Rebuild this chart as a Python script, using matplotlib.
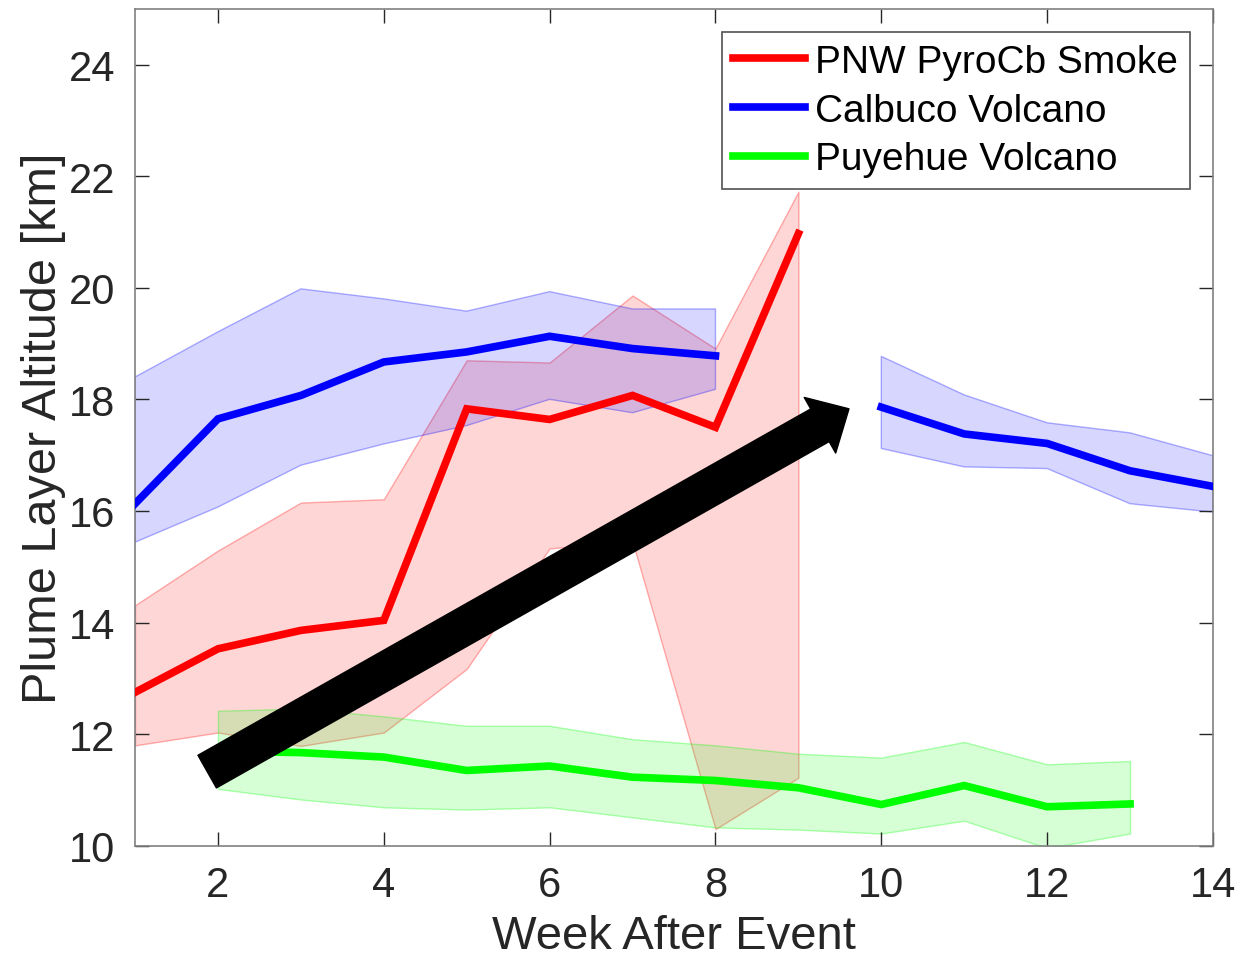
import numpy as np
import matplotlib
matplotlib.use("Agg")
import matplotlib.pyplot as plt

plt.rcParams["font.family"] = ["Liberation Sans", "DejaVu Sans"]

# Week after event
weeks = np.arange(1, 15)

# PNW PyroCb smoke (weeks 1-9)
pnw_mean = [12.75, 13.53, 13.86, 14.04, 17.83, 17.64, 18.07, 17.50, 20.97,
            np.nan, np.nan, np.nan, np.nan, np.nan]
pnw_upper = [14.31, 15.29, 16.15, 16.21, 18.70, 18.66, 19.86, 18.91, 21.72,
             np.nan, np.nan, np.nan, np.nan, np.nan]
pnw_lower = [11.80, 12.03, 11.79, 12.03, 13.17, 15.33, 15.45, 10.30, 11.22,
             np.nan, np.nan, np.nan, np.nan, np.nan]

# Calbuco volcano (weeks 1-8 and 10-14)
cal_mean = [16.13, 17.65, 18.07, 18.67, 18.85, 19.13, 18.91, 18.78, np.nan,
            17.86, 17.38, 17.21, 16.72, 16.44]
cal_upper = [18.40, 19.21, 19.98, 19.80, 19.58, 19.93, 19.62, 19.62, np.nan,
             18.77, 18.08, 17.58, 17.40, 16.99]
cal_lower = [15.44, 16.07, 16.82, 17.20, 17.53, 18.00, 17.76, 18.18, np.nan,
             17.12, 16.79, 16.76, 16.13, 15.98]

# Puyehue volcano (weeks 2-13)
puy_mean = [np.nan, 11.70, 11.67, 11.59, 11.35, 11.43, 11.23, 11.17, 11.04,
            10.74, 11.08, 10.70, 10.75, np.nan]
puy_upper = [np.nan, 12.42, 12.46, 12.32, 12.15, 12.15, 11.91, 11.80, 11.65,
             11.58, 11.86, 11.46, 11.52, np.nan]
puy_lower = [np.nan, 11.02, 10.83, 10.69, 10.65, 10.69, 10.51, 10.33, 10.29,
             10.22, 10.45, 9.96, 10.22, np.nan]

series = [
    ("PNW PyroCb Smoke", (1, 0, 0), pnw_mean, pnw_lower, pnw_upper),
    ("Calbuco Volcano", (0, 0, 1), cal_mean, cal_lower, cal_upper),
    ("Puyehue Volcano", (0, 1, 0), puy_mean, puy_lower, puy_upper),
]

fig = plt.figure(figsize=(12.39, 9.70), dpi=100)
ax = fig.add_axes([0.109, 0.127, 0.870, 0.863])

axcol = (0.15, 0.15, 0.15)

for name, col, mean, lo, hi in series:
    ax.fill_between(weeks, np.array(lo, float), np.array(hi, float),
                    facecolor=col + (0.16,), edgecolor=col + (0.3,),
                    linewidth=1.0, zorder=1)
for name, col, mean, lo, hi in series:
    ax.plot(weeks, mean, color=col, linewidth=5.5, label=name, zorder=3,
            solid_joinstyle="miter")

ax.set_xlim(1, 14)
ax.set_ylim(10, 25)
ax.set_xticks([2, 4, 6, 8, 10, 12, 14])
ax.set_yticks([10, 12, 14, 16, 18, 20, 22, 24])

ax.tick_params(direction="in", length=10, width=1, colors=axcol,
               labelsize=30, top=True, right=True, pad=14)
for s in ax.spines.values():
    s.set_color((0.5, 0.5, 0.5))
    s.set_linewidth(1.2)

ax.set_xlabel("Week After Event", fontsize=34, color=axcol, labelpad=6)
ax.set_ylabel("Plume Layer Altitude [km]", fontsize=35, color=axcol,
              labelpad=2)

# big black arrow
ax.annotate("", xy=(9.61, 17.83), xytext=(1.87, 11.33),
            arrowprops=dict(arrowstyle="simple,head_length=1.2,head_width=2.3,tail_width=1.35",
                            mutation_scale=20, color="black", shrinkA=0, shrinkB=0),
            zorder=5)

leg = ax.legend(loc="upper right", fontsize=28, frameon=True, fancybox=False,
                handlelength=1.85, handletextpad=0.25, borderpad=0.3,
                labelspacing=0.33, borderaxespad=0.6)
leg.get_frame().set_edgecolor((0.15, 0.15, 0.15))
leg.get_frame().set_linewidth(1.2)
leg.set_zorder(10)

fig.savefig("out.png", dpi=100)
